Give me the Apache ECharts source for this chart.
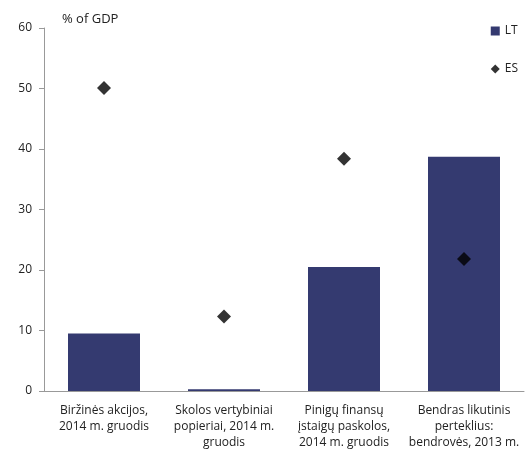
<!DOCTYPE html>
<html>
<head>
<meta charset="utf-8">
<script src="https://cdn.jsdelivr.net/npm/echarts@6/dist/echarts.min.js"></script>
<style>
  html, body { margin: 0; padding: 0; background: #fff; }
  #chart { width: 531px; height: 455px; }
</style>
</head>
<body>
<div id="chart"></div>
<script>
const categories = [
  "Biržinės akcijos,\n2014 m. gruodis",
  "Skolos vertybiniai\npopieriai, 2014 m.\ngruodis",
  "Pinigų finansų\nįstaigų paskolos,\n2014 m. gruodis",
  "Bendras likutinis\nperteklius:\nbendrovės, 2013 m."
];
const ltValues = [9.5, 0.3, 20.5, 38.7];
const esValues = [50.1, 12.3, 38.4, 21.8];

const chart = echarts.init(document.getElementById("chart"));

const font = "Open Sans, DejaVu Sans, sans-serif";

const option = {
  animation: false,
  textStyle: { fontFamily: font },
  grid: { left: 44, right: 7, top: 28, bottom: 64 },
  title: {
    text: "% of GDP",
    left: 57,
    top: 8,
    textStyle: { fontSize: 13, fontWeight: "normal", color: "#222", fontFamily: font }
  },
  legend: {
    orient: "vertical",
    right: 8,
    top: 20,
    itemGap: 26,
    itemWidth: 9,
    itemHeight: 9,
    textStyle: { fontSize: 12, color: "#222", fontFamily: font },
    data: [
      { name: "LT", icon: "rect" },
      { name: "ES", icon: "diamond" }
    ]
  },
  xAxis: {
    type: "category",
    data: categories,
    axisLine: { lineStyle: { color: "#999" } },
    axisTick: { length: 5, lineStyle: { color: "#999" } },
    axisLabel: {
      interval: 0,
      fontSize: 12,
      lineHeight: 16,
      color: "#222",
      margin: 12
    }
  },
  yAxis: {
    type: "value",
    min: 0,
    max: 60,
    interval: 10,
    splitLine: { show: false },
    axisLine: { show: true, lineStyle: { color: "#999" } },
    axisTick: { show: true, length: 5, lineStyle: { color: "#999" } },
    axisLabel: { fontSize: 12, color: "#222", margin: 12 }
  },
  series: [
    {
      name: "LT",
      type: "bar",
      data: ltValues,
      barWidth: "60%",
      itemStyle: { color: "#343a70" }
    },
    {
      name: "ES",
      type: "scatter",
      data: esValues,
      symbol: "diamond",
      symbolSize: 14,
      itemStyle: { color: "#000" }
    }
  ]
};

chart.setOption(option);
</script>
</body>
</html>
